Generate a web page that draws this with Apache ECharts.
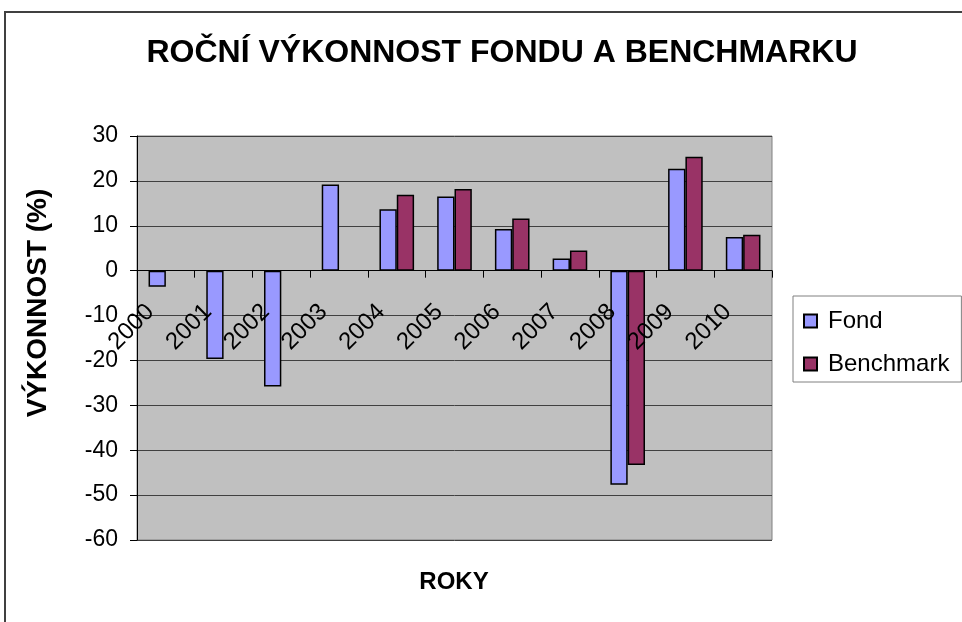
<!DOCTYPE html>
<html><head><meta charset="utf-8">
<script src="https://cdn.jsdelivr.net/npm/echarts@6/dist/echarts.min.js"></script>
<style>html,body{margin:0;padding:0;background:#fff}#c{width:962px;height:622px}</style>
</head><body><div id="c"></div>
<script>
const years = ['2000','2001','2002','2003','2004','2005','2006','2007','2008','2009','2010'];
const fond = [-3.6, -19.7, -25.8, 19.2, 13.7, 16.5, 9.3, 2.7, -47.7, 22.7, 7.5];
const benchmark = [null, null, null, null, 16.9, 18.2, 11.6, 4.5, -43.3, 25.4, 8.0];
const seriesNames = ['Fond', 'Benchmark'];
const yTicks = {min: -60, max: 30, step: 10};
const titleText = 'ROČNÍ VÝKONNOST FONDU A BENCHMARKU';
const yTitle = 'VÝKONNOST (%)';
const xTitle = 'ROKY';

const FF = '"Liberation Sans", Arial, sans-serif';
const G = {left: 137, top: 136, right: 190, bottom: 82};
const gridH = 622 - G.top - G.bottom;
// place the category axis on the value 0 line
const zeroOffset = -gridH * (0 - yTicks.min) / (yTicks.max - yTicks.min);

const chart = echarts.init(document.getElementById('c'), null, {renderer: 'canvas'});
chart.setOption({
  backgroundColor: '#ffffff',
  animation: false,
  title: {
    text: titleText, left: 497, top: 32, textAlign: 'center',
    textStyle: {fontFamily: FF, fontSize: 32, fontWeight: 'bold', color: '#000'}
  },
  legend: {
    orient: 'vertical', left: 793, top: 296,
    icon: 'rect',
    itemWidth: 13, itemHeight: 13, itemGap: 19,
    padding: [13, 12, 6, 10],
    borderColor: '#808080', borderWidth: 1, backgroundColor: '#fff',
    textStyle: {fontFamily: FF, fontSize: 24, color: '#000', padding: [0,0,0,6]},
    data: seriesNames
  },
  grid: {left: G.left, top: G.top, right: G.right, bottom: G.bottom, show: true,
    backgroundColor: '#c0c0c0', borderColor: '#808080', borderWidth: 1},
  xAxis: {
    type: 'category', data: years, z: 10, position: 'bottom', offset: zeroOffset,
    axisLine: {onZero: false, lineStyle: {color: '#000', width: 1}},
    axisTick: {show: true, inside: false, length: 7, lineStyle: {color: '#000'}},
    axisLabel: {interval: 0, rotate: 45, margin: 22, padding: [0, 22, 0, 0],
      fontFamily: FF, fontSize: 24, color: '#000'},
    splitLine: {show: false}
  },
  yAxis: {
    type: 'value', min: yTicks.min, max: yTicks.max, interval: yTicks.step,
    axisLine: {show: true, lineStyle: {color: '#000', width: 1}},
    axisTick: {show: true, length: 7, lineStyle: {color: '#000'}},
    axisLabel: {margin: 19, fontFamily: FF, fontSize: 23, color: '#000'},
    splitLine: {show: true, lineStyle: {color: '#404040', width: 1}}
  },
  series: [
    {name: seriesNames[0], type: 'bar', data: fond, barGap: '0%', barCategoryGap: '40%',
      itemStyle: {color: '#9999ff', borderColor: '#000', borderWidth: 1.5}},
    {name: seriesNames[1], type: 'bar', data: benchmark, barGap: '0%', barCategoryGap: '40%',
      itemStyle: {color: '#993366', borderColor: '#000', borderWidth: 1.5}}
  ],
  graphic: [
    {type: 'rect', silent: true, z: -10, shape: {x: 5, y: 12, width: 1100, height: 800},
      style: {fill: null, stroke: '#404040', lineWidth: 2}},
    {type: 'text', x: 38, y: 303, rotation: Math.PI / 2,
      style: {text: yTitle, fontFamily: FF, fontSize: 28, fontWeight: 'bold', fill: '#000',
        textAlign: 'center', textVerticalAlign: 'middle'}},
    {type: 'text', x: 454, y: 582,
      style: {text: xTitle, fontFamily: FF, fontSize: 24, fontWeight: 'bold', fill: '#000',
        textAlign: 'center', textVerticalAlign: 'middle'}}
  ]
});
</script></body></html>
